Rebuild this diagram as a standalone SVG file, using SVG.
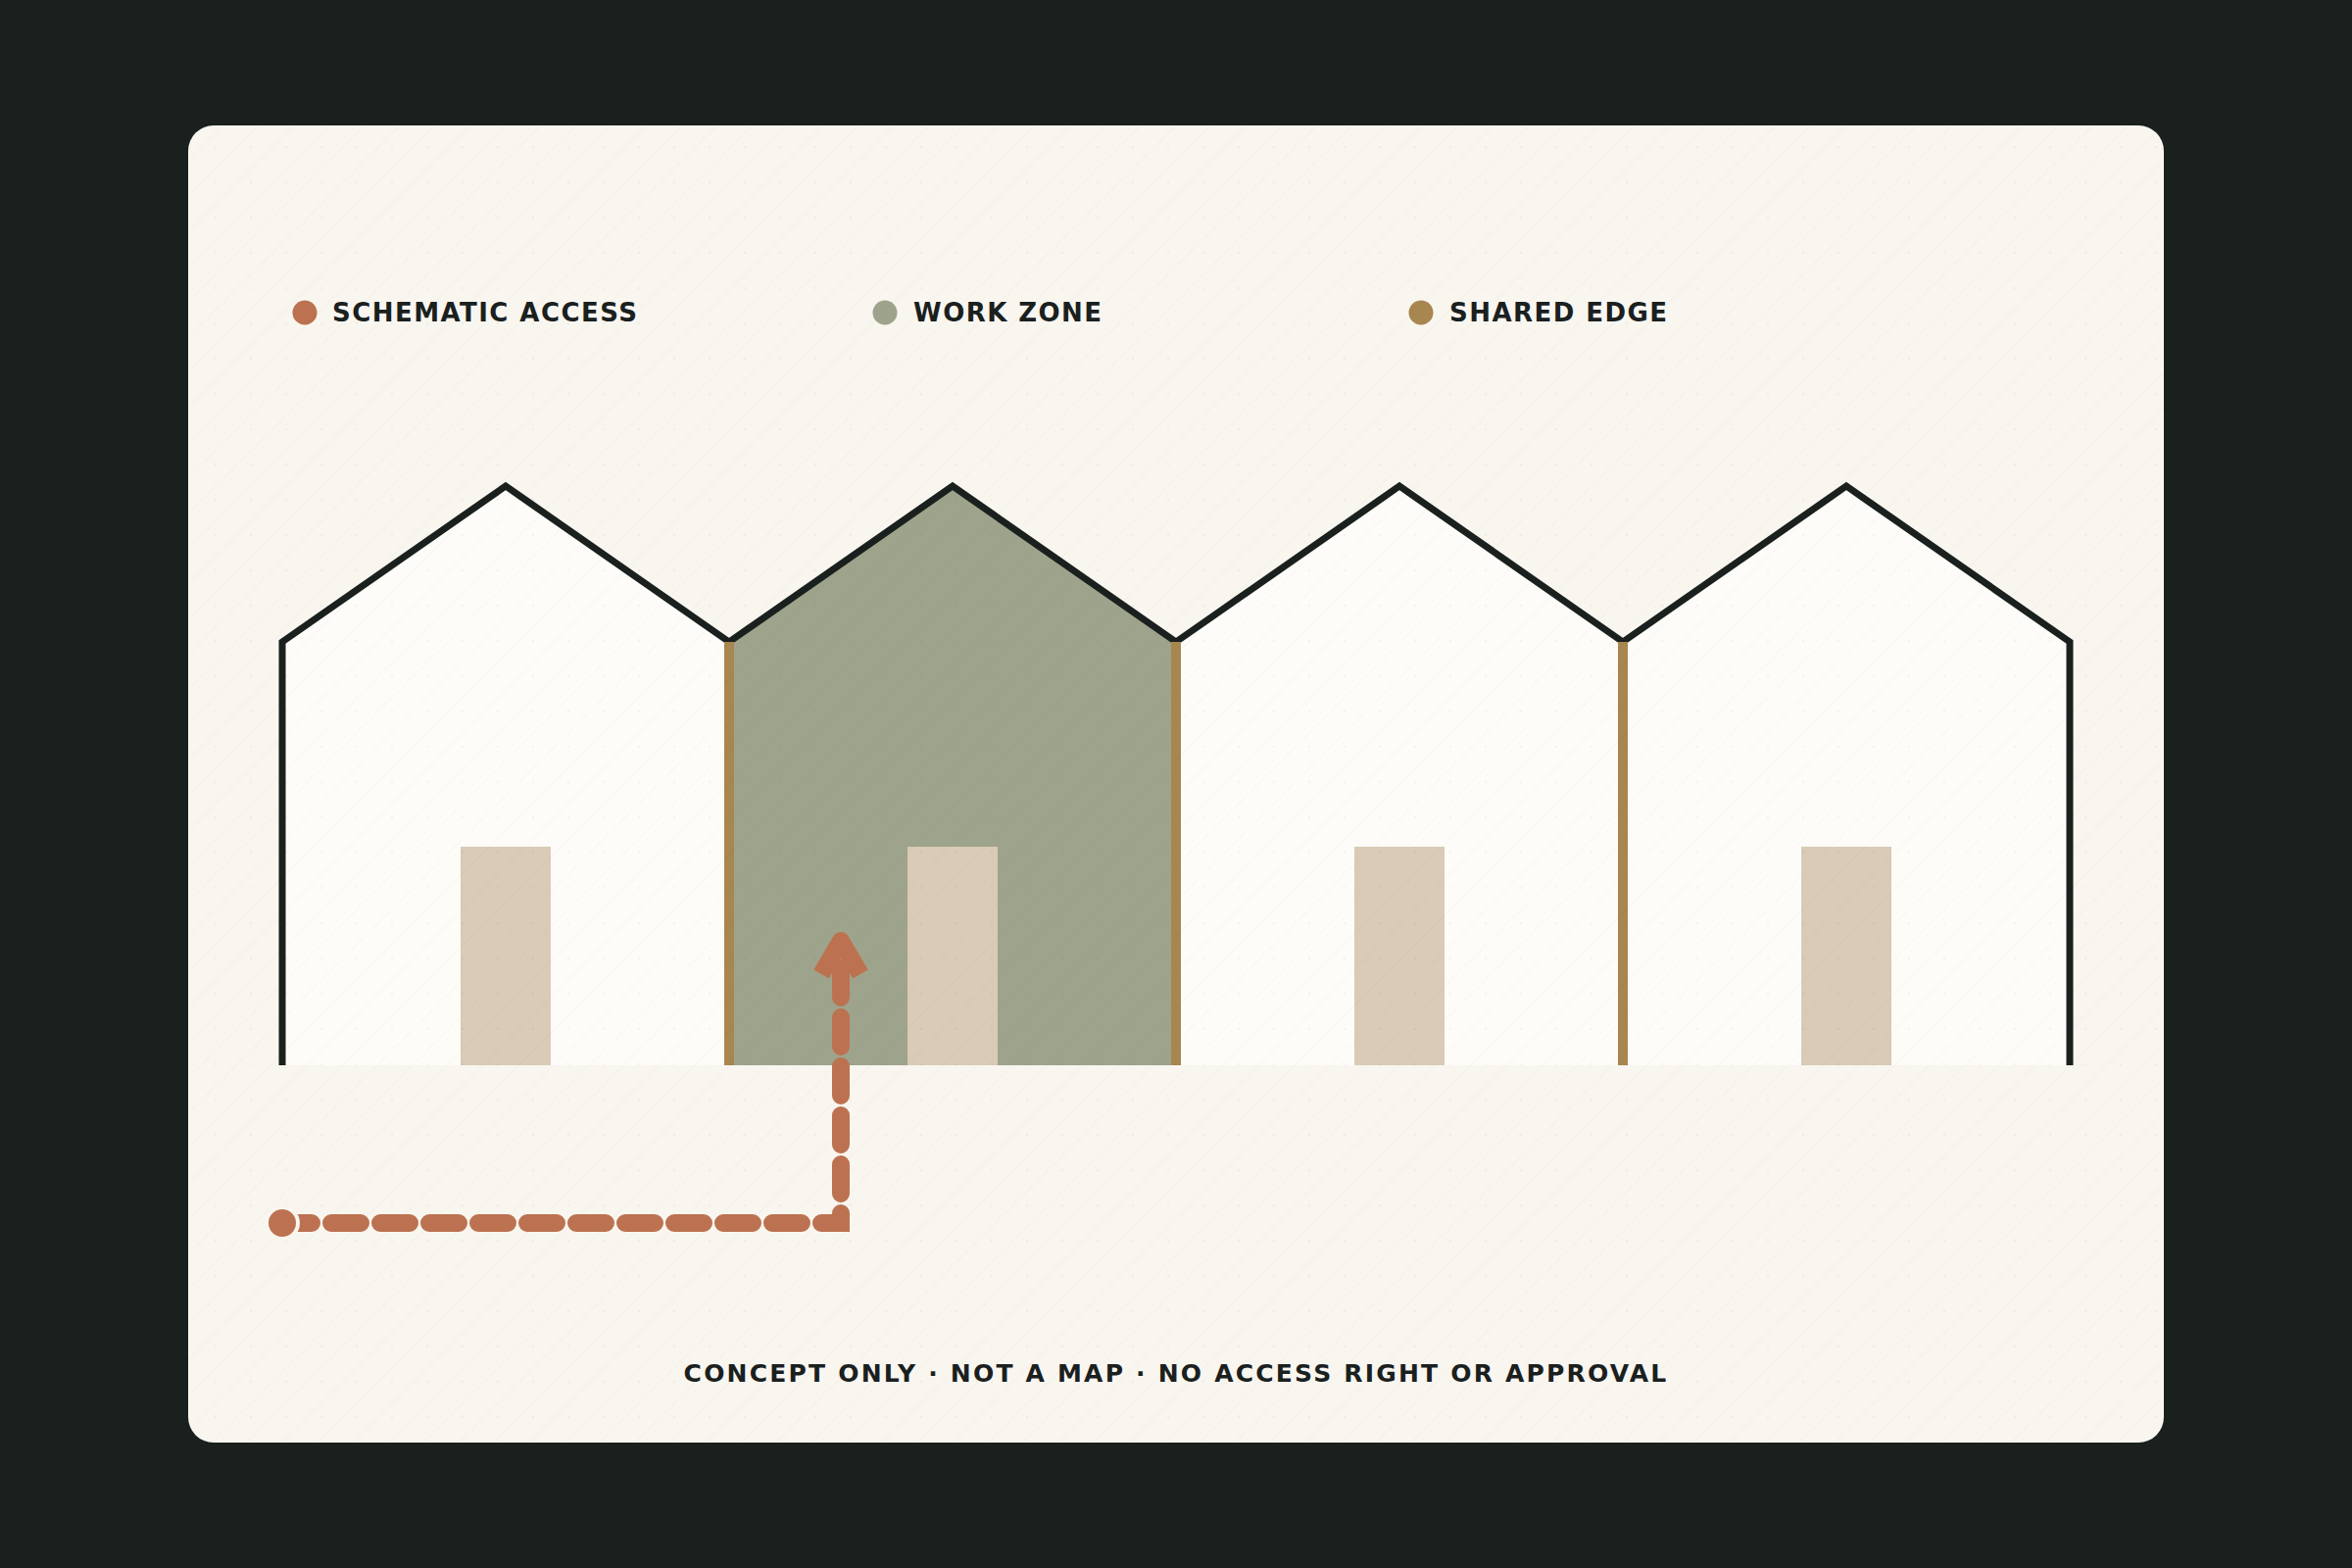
<svg xmlns="http://www.w3.org/2000/svg" width="2400" height="1600" viewBox="0 0 2400 1600">
  <defs>
    <style>
      .lbl { font-family: "DejaVu Sans", "Liberation Sans", sans-serif; font-weight: bold; font-size: 26px; letter-spacing: 1.45px; fill: #1A201E; }
      .foot { font-family: "DejaVu Sans", "Liberation Sans", sans-serif; font-weight: bold; font-size: 25px; letter-spacing: 2.2px; fill: #1A201E; }
      .house { fill: #FDFCF8; }
      .work { fill: #9EA48B; }
      .door { fill: #D9CBB5; }
      .roof { fill: none; stroke: #1A201E; stroke-width: 7; stroke-linejoin: miter; stroke-linecap: butt; }
      .edge { stroke: #A8864F; stroke-width: 10; stroke-linecap: butt; }
      .route { fill: none; stroke: #BC7250; stroke-width: 18; stroke-linecap: round; stroke-linejoin: miter; stroke-dasharray: 30 20; }
      .arrow { fill: none; stroke: #BC7250; stroke-width: 18; stroke-linecap: butt; stroke-linejoin: round; }
    </style>
    <pattern id="grain" x="192" y="128" width="36" height="36" patternUnits="userSpaceOnUse">
      <circle cx="28" cy="22" r="1.3" fill="#1A201E" fill-opacity="0.04"/>
      <path d="M0 36 L36 0" stroke="#1A201E" stroke-opacity="0.015" stroke-width="1.2"/>
    </pattern>
    <clipPath id="cardClip">
      <rect x="192" y="128" width="2016" height="1344" rx="26"/>
    </clipPath>
  </defs>

  <rect x="0" y="0" width="2400" height="1600" fill="#19201E"/>
  <rect x="192" y="128" width="2016" height="1344" rx="26" fill="#F9F6F0"/>

  <g id="legend">
    <g id="legend-access">
      <circle cx="311" cy="319" r="12.5" fill="#BC7250"/>
      <text class="lbl" x="339" y="328">SCHEMATIC ACCESS</text>
    </g>
    <g id="legend-work">
      <circle cx="903" cy="319" r="12.5" fill="#9EA48B"/>
      <text class="lbl" x="932" y="328">WORK ZONE</text>
    </g>
    <g id="legend-edge">
      <circle cx="1450" cy="319" r="12.5" fill="#A8864F"/>
      <text class="lbl" x="1479" y="328">SHARED EDGE</text>
    </g>
  </g>

  <g id="house-1">
    <polygon class="house" points="288,1087 288,655 516,496 744,655 744,1087"/>
    <rect class="door" x="470" y="864" width="92" height="223"/>
    <polyline class="roof" points="288,1087 288,655 516,496 744,655"/>
  </g>
  <g id="house-2">
    <polygon class="work" points="744,1087 744,655 972,496 1200,655 1200,1087"/>
    <rect class="door" x="926" y="864" width="92" height="223"/>
    <polyline class="roof" points="744,655 972,496 1200,655"/>
  </g>
  <g id="house-3">
    <polygon class="house" points="1200,1087 1200,655 1428,496 1656,655 1656,1087"/>
    <rect class="door" x="1382" y="864" width="92" height="223"/>
    <polyline class="roof" points="1200,655 1428,496 1656,655"/>
  </g>
  <g id="house-4">
    <polygon class="house" points="1656,1087 1656,655 1884,496 2112,655 2112,1087"/>
    <rect class="door" x="1838" y="864" width="92" height="223"/>
    <polyline class="roof" points="1656,655 1884,496 2112,655 2112,1087"/>
  </g>

  <g id="shared-edges">
    <line class="edge" x1="744" y1="655" x2="744" y2="1087"/>
    <line class="edge" x1="1200" y1="655" x2="1200" y2="1087"/>
    <line class="edge" x1="1656" y1="655" x2="1656" y2="1087"/>
  </g>

  <rect x="192" y="128" width="2016" height="1344" fill="url(#grain)" clip-path="url(#cardClip)"/>

  <g id="connectors">
    <path class="route" d="M288 1248 H858 V968"/>
    <path class="arrow" d="M838 994 L858 960 L878 994"/>
    <circle cx="288" cy="1248" r="16" fill="#BC7250" stroke="#F9F6F0" stroke-width="4"/>
  </g>

  <g id="footer">
    <text class="foot" x="1200" y="1410" text-anchor="middle">CONCEPT ONLY · NOT A MAP · NO ACCESS RIGHT OR APPROVAL</text>
  </g>
</svg>
